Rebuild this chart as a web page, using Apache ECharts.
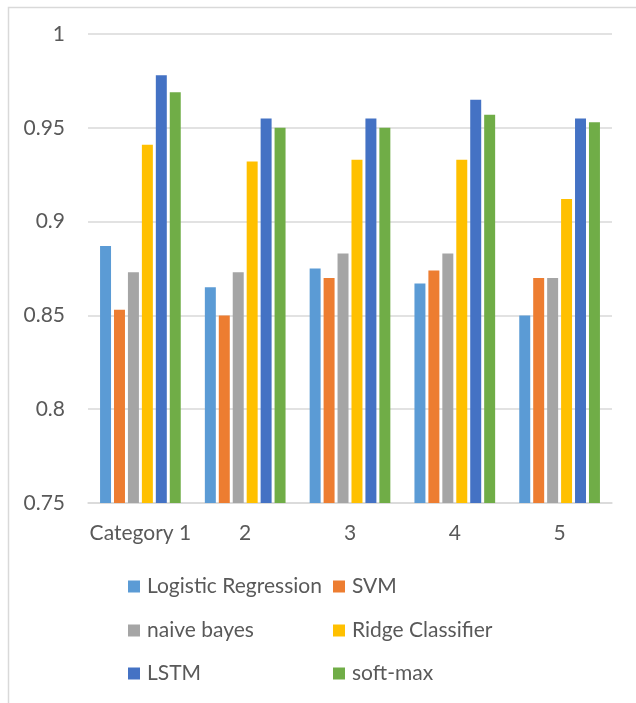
<!DOCTYPE html>
<html>
<head>
<meta charset="utf-8">
<title>Model accuracy by category</title>
<script src="https://cdn.jsdelivr.net/npm/echarts@6/dist/echarts.min.js"></script>
<style>
  html, body { margin: 0; padding: 0; background: #ffffff; }
  #chart { width: 636px; height: 703px; }
</style>
</head>
<body>
<div id="chart"></div>
<script>
// Categories along the x axis
const categories = ['Category 1', '2', '3', '4', '5'];

// Accuracy of each model per category
const logisticRegression = [0.887, 0.865, 0.875, 0.867, 0.850];
const svm                = [0.853, 0.850, 0.870, 0.874, 0.870];
const naiveBayes         = [0.873, 0.873, 0.883, 0.883, 0.870];
const ridgeClassifier    = [0.941, 0.932, 0.933, 0.933, 0.912];
const lstm               = [0.978, 0.955, 0.955, 0.965, 0.955];
const softMax            = [0.969, 0.950, 0.950, 0.957, 0.953];

// Y axis range and step
const yMin = 0.75;
const yMax = 1;
const yStep = 0.05;

const seriesNames = ['Logistic Regression', 'SVM', 'naive bayes', 'Ridge Classifier', 'LSTM', 'soft-max'];
const seriesValues = [logisticRegression, svm, naiveBayes, ridgeClassifier, lstm, softMax];
const seriesColors = ['#5B9BD5', '#ED7D31', '#A5A5A5', '#FFC000', '#4472C4', '#70AD47'];

const FONT = 'Lato';
const TEXT_COLOR = '#595959';
const FONT_SIZE = 21;

// Legend laid out as a two-column table
const legendSlots = [
  { left: 128, top: 576 }, { left: 333, top: 576 },
  { left: 128, top: 620 }, { left: 333, top: 620 },
  { left: 128, top: 663 }, { left: 333, top: 663 }
];

const chart = echarts.init(document.getElementById('chart'), null, { renderer: 'canvas' });

chart.setOption({
  backgroundColor: '#ffffff',
  animation: false,
  textStyle: { fontFamily: FONT, color: TEXT_COLOR },
  graphic: [{
    type: 'rect',
    left: 6, top: 5,
    shape: { width: 700, height: 760 },
    style: { fill: 'none', stroke: '#d9d9d9', lineWidth: 1.5 },
    silent: true,
    z: -10
  }],
  legend: seriesNames.map((name, i) => ({
    data: [name],
    left: legendSlots[i].left,
    top: legendSlots[i].top,
    itemWidth: 12,
    itemHeight: 12,
    icon: 'rect',
    padding: 0,
    textStyle: { fontFamily: FONT, fontSize: FONT_SIZE, color: TEXT_COLOR, padding: [0, 0, 0, 2] },
    selectedMode: false
  })),
  grid: { left: 88, right: 24, top: 34, bottom: 200, containLabel: false },
  xAxis: {
    type: 'category',
    data: categories,
    axisLine: { lineStyle: { color: '#d9d9d9', width: 1.5 } },
    axisTick: { show: false },
    axisLabel: { interval: 0, fontFamily: FONT, fontSize: FONT_SIZE, color: TEXT_COLOR, margin: 20 }
  },
  yAxis: {
    type: 'value',
    min: yMin,
    max: yMax,
    interval: yStep,
    axisLine: { show: false },
    axisTick: { show: false },
    splitLine: { lineStyle: { color: '#d9d9d9', width: 1.5 } },
    axisLabel: { fontFamily: FONT, fontSize: FONT_SIZE, color: TEXT_COLOR, margin: 23 }
  },
  series: seriesNames.map((name, i) => ({
    name: name,
    type: 'bar',
    data: seriesValues[i],
    barGap: '27%',
    barCategoryGap: '23%',
    itemStyle: { color: seriesColors[i] }
  }))
});
</script>
</body>
</html>
